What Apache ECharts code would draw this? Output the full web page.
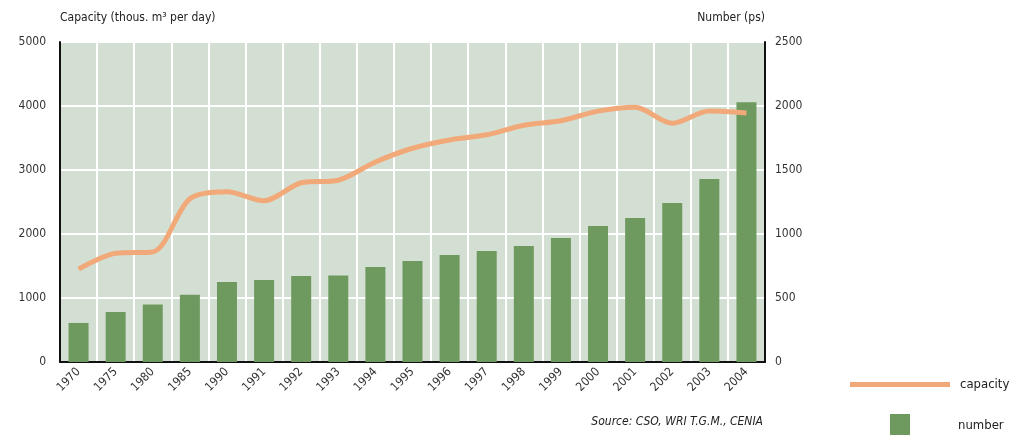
<!DOCTYPE html>
<html>
<head>
<meta charset="utf-8">
<script src="https://cdn.jsdelivr.net/npm/echarts@6/dist/echarts.min.js"></script>
<style>
  html, body { margin: 0; padding: 0; background: #fff; }
  #main { width: 1025px; height: 435px; }
</style>
</head>
<body>
<div id="main"></div>
<script>
// data
var years = ['1970', '1975', '1980', '1985', '1990', '1991', '1992', '1993', '1994', '1995',
             '1996', '1997', '1998', '1999', '2000', '2001', '2002', '2003', '2004'];
var capacity = [1450, 1700, 1720, 2550, 2660, 2520, 2800, 2840, 3125, 3340,
                3470, 3550, 3700, 3770, 3920, 3980, 3730, 3920, 3890];
var number = [305, 390, 450, 525, 625, 640, 672, 675, 742, 790,
              836, 867, 906, 969, 1062, 1125, 1242, 1430, 2030];
var leftTicks = [0, 5000, 1000];
var rightTicks = [0, 2500, 500];

var font = '"DejaVu Sans Condensed", "Liberation Sans Narrow", "DejaVu Sans", sans-serif';
var plain = function (v) { return String(v); };

var myChart = echarts.init(document.getElementById('main'));

myChart.setOption({
    animation: false,
    textStyle: { fontFamily: font },
    grid: {
        left: 60, right: 260, top: 42, bottom: 73,
        show: true, backgroundColor: '#d3dfd2', borderWidth: 0
    },
    legend: [{
        left: 845, top: 373,
        itemWidth: 100, itemHeight: 5,
        data: [{ name: 'capacity', icon: 'rect' }],
        textStyle: { fontSize: 13, color: '#222', padding: [0, 0, 0, 5] }
    }, {
        left: 885, top: 409,
        itemWidth: 20, itemHeight: 23,
        data: [{ name: 'number', icon: 'rect' }],
        textStyle: { fontSize: 13, color: '#222', padding: [0, 0, 0, 43] }
    }],
    xAxis: {
        type: 'category',
        data: years,
        boundaryGap: true,
        axisLine: { lineStyle: { color: '#111', width: 2 } },
        axisTick: { show: false },
        axisLabel: { interval: 0, rotate: 45, fontSize: 12, color: '#333', margin: 8 },
        splitLine: { show: true, interval: 0, lineStyle: { color: '#fff', width: 2 } }
    },
    yAxis: [{
        type: 'value',
        min: leftTicks[0], max: leftTicks[1], interval: leftTicks[2],
        name: 'Capacity (thous. m³ per day)',
        nameLocation: 'end',
        nameGap: 18,
        nameTextStyle: { align: 'left', fontSize: 12, color: '#222' },
        axisLine: { show: true, lineStyle: { color: '#111', width: 2 } },
        axisTick: { show: false },
        axisLabel: { fontSize: 12, color: '#333', margin: 14, formatter: plain },
        splitLine: { show: true, lineStyle: { color: '#fff', width: 2 } }
    }, {
        type: 'value',
        position: 'right',
        min: rightTicks[0], max: rightTicks[1], interval: rightTicks[2],
        name: 'Number (ps)',
        nameLocation: 'end',
        nameGap: 18,
        nameTextStyle: { align: 'right', fontSize: 12, color: '#222' },
        axisLine: { show: true, lineStyle: { color: '#111', width: 2 } },
        axisTick: { show: false },
        axisLabel: { fontSize: 12, color: '#333', margin: 10, formatter: plain },
        splitLine: { show: false }
    }],
    graphic: [{
        type: 'text',
        right: 262, top: 416,
        style: {
            text: 'Source: CSO, WRI T.G.M., CENIA',
            font: 'italic 12px ' + font,
            fill: '#222'
        }
    }],
    series: [{
        name: 'number',
        type: 'bar',
        yAxisIndex: 1,
        barWidth: 20,
        itemStyle: { color: '#6f9a5f' },
        data: number
    }, {
        name: 'capacity',
        type: 'line',
        yAxisIndex: 0,
        smooth: 0.3,
        symbol: 'none',
        lineStyle: { color: '#f2a97a', width: 5 },
        itemStyle: { color: '#f2a97a' },
        data: capacity
    }]
});
</script>
</body>
</html>
